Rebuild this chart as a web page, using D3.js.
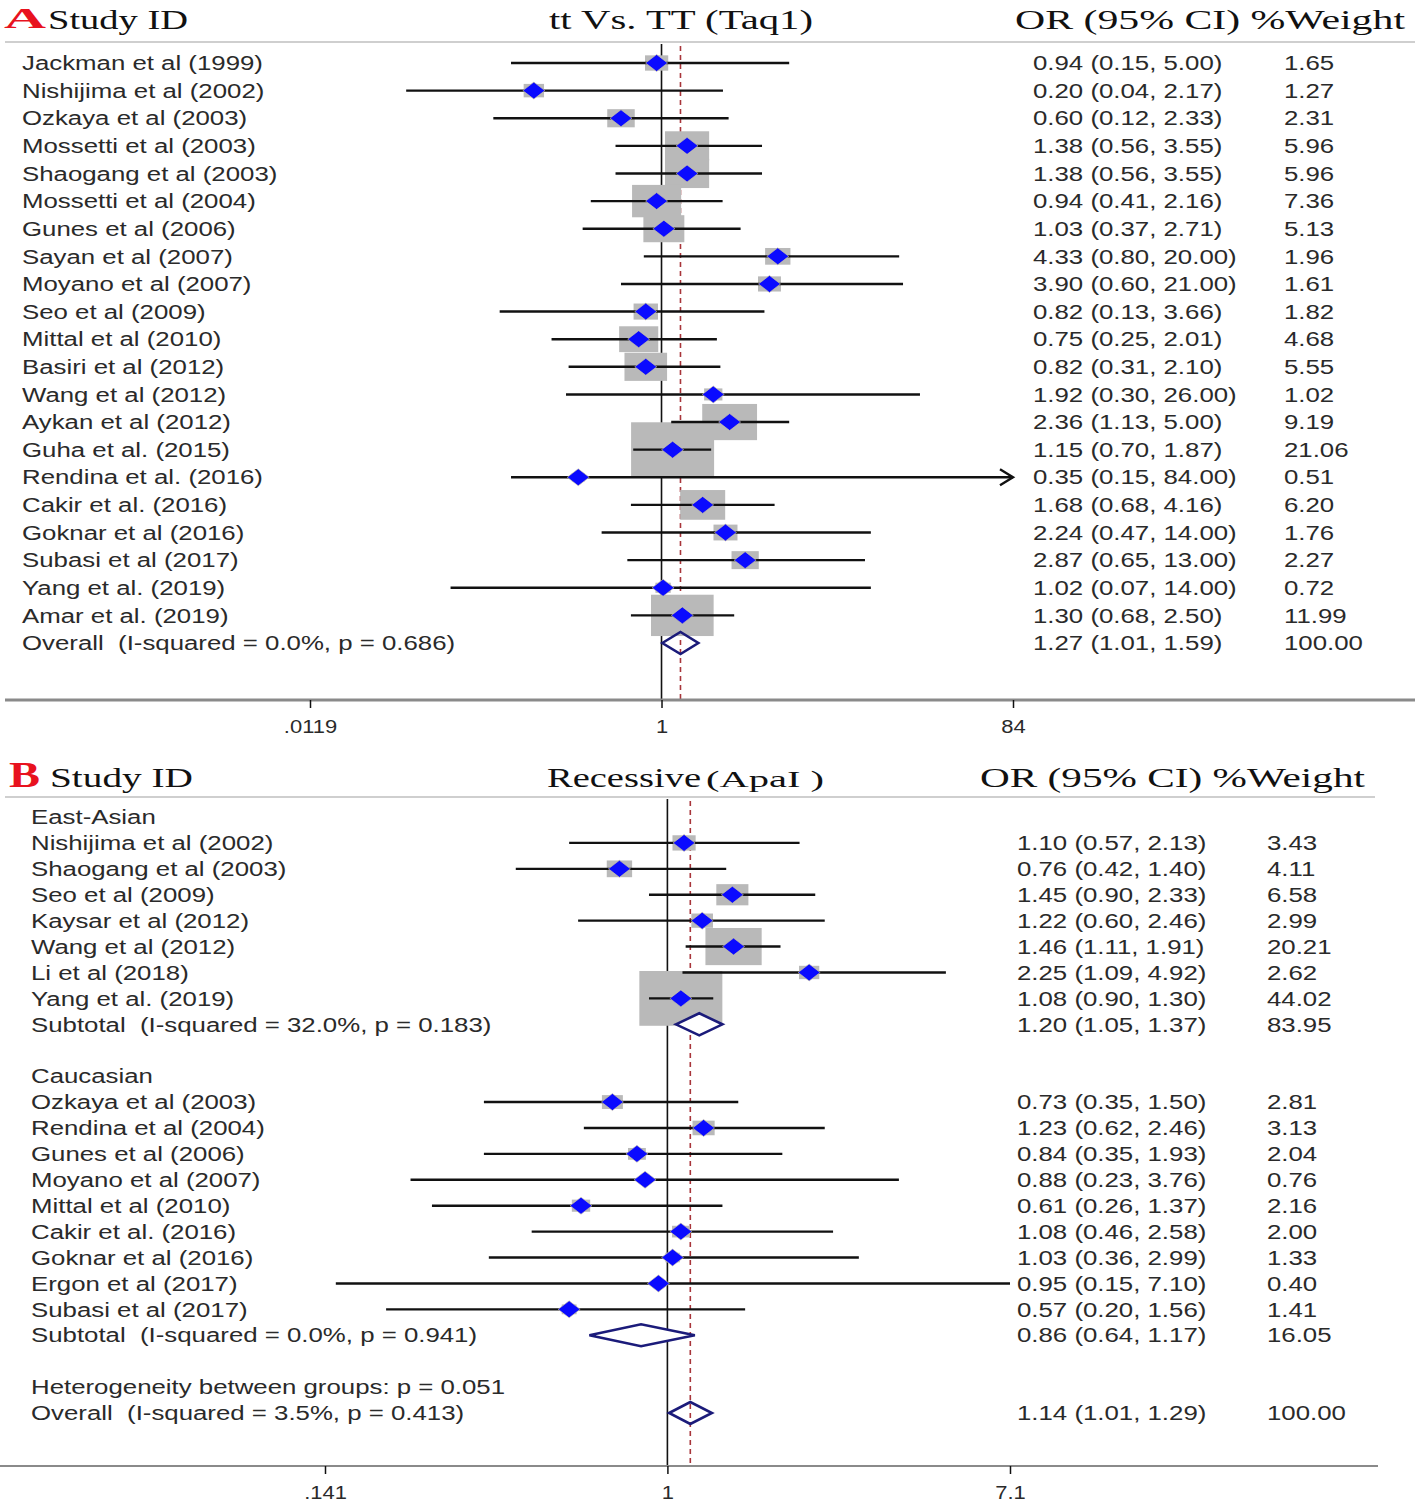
<!DOCTYPE html>
<html><head><meta charset="utf-8">
<script src="https://cdn.jsdelivr.net/npm/d3@7"></script>
<style>
body{margin:0;background:#fff;}
svg text{white-space:pre;}
</style>
</head><body>
<svg id="chart" width="1418" height="1503"></svg>
<script>
// ---------------- Panel A data ----------------
const labelsA = ["Jackman et al (1999)","Nishijima et al (2002)","Ozkaya et al (2003)","Mossetti et al (2003)","Shaogang et al (2003)","Mossetti et al (2004)","Gunes et al (2006)","Sayan et al (2007)","Moyano et al (2007)","Seo et al (2009)","Mittal et al (2010)","Basiri et al (2012)","Wang et al (2012)","Aykan et al (2012)","Guha et al. (2015)","Rendina et al. (2016)","Cakir et al. (2016)","Goknar et al (2016)","Subasi et al (2017)","Yang et al. (2019)","Amar et al. (2019)","Overall  (I-squared = 0.0%, p = 0.686)"];
const kindsA = ["study","study","study","study","study","study","study","study","study","study","study","study","study","study","study","study","study","study","study","study","study","overall"];
const orA   = [0.94,0.20,0.60,1.38,1.38,0.94,1.03,4.33,3.90,0.82,0.75,0.82,1.92,2.36,1.15,0.35,1.68,2.24,2.87,1.02,1.30,1.27];
const lowA  = [0.15,0.04,0.12,0.56,0.56,0.41,0.37,0.80,0.60,0.13,0.25,0.31,0.30,1.13,0.70,0.15,0.68,0.47,0.65,0.07,0.68,1.01];
const highA = [5.00,2.17,2.33,3.55,3.55,2.16,2.71,20.00,21.00,3.66,2.01,2.10,26.00,5.00,1.87,84.00,4.16,14.00,13.00,14.00,2.50,1.59];
const weightA = [1.65,1.27,2.31,5.96,5.96,7.36,5.13,1.96,1.61,1.82,4.68,5.55,1.02,9.19,21.06,0.51,6.20,1.76,2.27,0.72,11.99,100.00];
const arrowA = [false,false,false,false,false,false,false,false,false,false,false,false,false,false,false,true,false,false,false,false,false,false];
const tickValsA = [0.0119, 1, 84];
const tickLabelsA = [".0119", "1", "84"];

// ---------------- Panel B data ----------------
const labelsB = ["East-Asian","Nishijima et al (2002)","Shaogang et al (2003)","Seo et al (2009)","Kaysar et al (2012)","Wang et al (2012)","Li et al (2018)","Yang et al. (2019)","Subtotal  (I-squared = 32.0%, p = 0.183)","","Caucasian","Ozkaya et al (2003)","Rendina et al (2004)","Gunes et al (2006)","Moyano et al (2007)","Mittal et al (2010)","Cakir et al. (2016)","Goknar et al (2016)","Ergon et al (2017)","Subasi et al (2017)","Subtotal  (I-squared = 0.0%, p = 0.941)","","Heterogeneity between groups: p = 0.051","Overall  (I-squared = 3.5%, p = 0.413)"];
const kindsB = ["group","study","study","study","study","study","study","study","subtotal","blank","group","study","study","study","study","study","study","study","study","study","subtotal","blank","group","overall"];
const orB   = [null,1.10,0.76,1.45,1.22,1.46,2.25,1.08,1.20,null,null,0.73,1.23,0.84,0.88,0.61,1.08,1.03,0.95,0.57,0.86,null,null,1.14];
const lowB  = [null,0.57,0.42,0.90,0.60,1.11,1.09,0.90,1.05,null,null,0.35,0.62,0.35,0.23,0.26,0.46,0.36,0.15,0.20,0.64,null,null,1.01];
const highB = [null,2.13,1.40,2.33,2.46,1.91,4.92,1.30,1.37,null,null,1.50,2.46,1.93,3.76,1.37,2.58,2.99,7.10,1.56,1.17,null,null,1.29];
const weightB = [null,3.43,4.11,6.58,2.99,20.21,2.62,44.02,83.95,null,null,2.81,3.13,2.04,0.76,2.16,2.00,1.33,0.40,1.41,16.05,null,null,100.00];
const tickValsB = [0.141, 1, 7.1];
const tickLabelsB = [".141", "1", "7.1"];

// ---------------- drawing ----------------
const svg = d3.select("#chart");
const SANS = "'Liberation Sans', Arial, sans-serif";
const SERIF = "'Liberation Serif', 'Times New Roman', serif";
const TXT = "#2a2a2a";

function stretch(sel, f) {
  sel.each(function () {
    const w = this.getComputedTextLength();
    d3.select(this).attr("textLength", w * f).attr("lengthAdjust", "spacingAndGlyphs");
  });
}
function fitTo(sel, w) {
  sel.attr("textLength", w).attr("lengthAdjust", "spacingAndGlyphs");
}

function panel(cfg) {
  const g = svg.append("g");
  const n = cfg.labels.length;
  const x = d3.scaleLog().domain(cfg.domain).range(cfg.range);
  const y = d3.scalePoint().domain(d3.range(n)).range(cfg.yRange);
  const xMax = cfg.domain[1];

  // header
  const L = g.append("text").attr("x", cfg.letterX).attr("y", cfg.letterY).text(cfg.letter)
    .attr("font-family", SERIF).attr("font-weight", "bold").attr("font-size", cfg.letterSize).attr("fill", "#e8121e");
  fitTo(L, cfg.letterW);
  cfg.headers.forEach(h => {
    const t = g.append("text").attr("x", h.x).attr("y", cfg.headY).text(h.text)
      .attr("font-family", SERIF).attr("font-size", h.size || 27).attr("fill", "#111");
    fitTo(t, h.w);
  });
  g.append("line").attr("x1", 5).attr("x2", cfg.sepX2).attr("y1", cfg.sepY).attr("y2", cfg.sepY)
    .attr("stroke", "#cfcfcf").attr("stroke-width", 2);

  // reference line at 1
  g.append("line").attr("x1", x(1)).attr("x2", x(1)).attr("y1", cfg.sepY + 2).attr("y2", cfg.axisY)
    .attr("stroke", "#111").attr("stroke-width", 1.6);
  // overall dashed line
  const oi = cfg.kinds.indexOf("overall");
  g.append("line").attr("x1", x(cfg.or[oi])).attr("x2", x(cfg.or[oi]))
    .attr("y1", cfg.sepY + 4).attr("y2", cfg.axisY)
    .attr("stroke", "#a8353a").attr("stroke-width", 1.6).attr("stroke-dasharray", "5,4");

  const studies = d3.range(n).filter(i => cfg.kinds[i] === "study");
  const maxW = d3.max(studies, i => cfg.weight[i]);

  // weight boxes
  g.selectAll("rect.box").data(studies).join("rect").attr("class", "box")
    .each(function (i) {
      const w = 83 * Math.sqrt(cfg.weight[i] / maxW), h = w * 0.66;
      d3.select(this).attr("x", x(cfg.or[i]) - w / 2).attr("y", y(i) - h / 2)
        .attr("width", w).attr("height", h);
    })
    .attr("fill", "#b9b9b9");

  // CI lines
  g.selectAll("line.ci").data(studies).join("line").attr("class", "ci")
    .attr("x1", i => x(cfg.low[i])).attr("x2", i => x(Math.min(cfg.high[i], xMax)))
    .attr("y1", i => y(i)).attr("y2", i => y(i))
    .attr("stroke", "#111").attr("stroke-width", 2.4);

  // arrows
  const arr = studies.filter(i => cfg.arrow && cfg.arrow[i]);
  g.selectAll("path.arrow").data(arr).join("path").attr("class", "arrow")
    .attr("d", i => `M${x(xMax) - 13},${y(i) - 8} L${x(xMax)},${y(i)} L${x(xMax) - 13},${y(i) + 8}`)
    .attr("fill", "none").attr("stroke", "#111").attr("stroke-width", 2.4);

  // point markers
  g.selectAll("path.pt").data(studies).join("path").attr("class", "pt")
    .attr("d", i => { const cx = x(cfg.or[i]), cy = y(i);
      return `M${cx - 11},${cy} L${cx},${cy - 8.5} L${cx + 11},${cy} L${cx},${cy + 8.5} Z`; })
    .attr("fill", "#0a0aff").attr("stroke", "#d8d0a0").attr("stroke-width", 0.6);

  // pooled diamonds
  const pooled = d3.range(n).filter(i => cfg.kinds[i] === "subtotal" || cfg.kinds[i] === "overall");
  g.selectAll("path.dia").data(pooled).join("path").attr("class", "dia")
    .attr("d", i => { const cy = y(i), l = x(cfg.low[i]), c = x(cfg.or[i]), r = x(cfg.high[i]);
      return `M${l},${cy} L${c},${cy - 11} L${r},${cy} L${c},${cy + 11} Z`; })
    .attr("fill", i => cfg.kinds[i] === "overall" ? "none" : "#fff")
    .attr("stroke", "#1b1b7a").attr("stroke-width", 2.6);

  // labels
  const lab = g.selectAll("text.lab").data(d3.range(n).filter(i => cfg.labels[i] !== "")).join("text")
    .attr("class", "lab").attr("x", cfg.labX).attr("y", i => y(i)).attr("dy", "0.36em")
    .text(i => cfg.labels[i]).attr("font-family", SANS).attr("font-size", 20).attr("fill", TXT);
  stretch(lab, 1.29);

  const withVal = d3.range(n).filter(i => cfg.or[i] != null);
  const est = g.selectAll("text.est").data(withVal).join("text").attr("class", "est")
    .attr("x", cfg.estX).attr("y", i => y(i)).attr("dy", "0.36em")
    .text(i => `${cfg.or[i].toFixed(2)} (${cfg.low[i].toFixed(2)}, ${cfg.high[i].toFixed(2)})`)
    .attr("font-family", SANS).attr("font-size", 20).attr("fill", TXT);
  stretch(est, 1.29);
  const wt = g.selectAll("text.wt").data(withVal).join("text").attr("class", "wt")
    .attr("x", cfg.wtX).attr("y", i => y(i)).attr("dy", "0.36em")
    .text(i => cfg.weight[i].toFixed(2))
    .attr("font-family", SANS).attr("font-size", 20).attr("fill", TXT);
  stretch(wt, 1.29);

  // axis
  g.append("line").attr("x1", cfg.axisX[0]).attr("x2", cfg.axisX[1]).attr("y1", cfg.axisY).attr("y2", cfg.axisY)
    .attr("stroke", "#8a8a8a").attr("stroke-width", cfg.axisW);
  const ax = g.append("g").attr("transform", `translate(0,${cfg.axisY})`)
    .call(d3.axisBottom(x).tickValues(cfg.tickVals)
      .tickFormat((d, i) => cfg.tickLabels[i]).tickSize(8).tickPadding(12));
  ax.select(".domain").remove();
  ax.selectAll(".tick line").attr("stroke", "#111").attr("stroke-width", 1.5);
  const tt = ax.selectAll(".tick text").attr("font-family", SANS).attr("font-size", 18).attr("fill", TXT);
  stretch(tt, 1.22);
}

panel({
  labels: labelsA, kinds: kindsA, or: orA, low: lowA, high: highA, weight: weightA, arrow: arrowA,
  domain: [0.0119, 84], range: [310, 1013], yRange: [63, 643],
  tickVals: tickValsA, tickLabels: tickLabelsA,
  letter: "A", letterX: 4, letterY: 28, letterSize: 30, letterW: 42, headY: 29,
  headers: [
    { text: "Study ID", x: 48, w: 140 },
    { text: "tt Vs. TT (Taq1)", x: 549, w: 264 },
    { text: "OR (95% CI) %Weight", x: 1015, w: 390 }
  ],
  sepY: 42, sepX2: 1415, labX: 22, estX: 1033, wtX: 1284,
  axisY: 700, axisX: [5, 1415], axisW: 3
});

panel({
  labels: labelsB, kinds: kindsB, or: orB, low: lowB, high: highB, weight: weightB, arrow: null,
  domain: [0.141, 7.1], range: [325, 1010], yRange: [817, 1413],
  tickVals: tickValsB, tickLabels: tickLabelsB,
  letter: "B", letterX: 9, letterY: 787, letterSize: 35, letterW: 31, headY: 787,
  headers: [
    { text: "Study ID", x: 50, w: 143 },
    { text: "Recessive", x: 547, w: 154, size: 28 },
    { text: "(ApaI )", x: 706, w: 118, size: 24 },
    { text: "OR (95% CI) %Weight", x: 980, w: 385 }
  ],
  sepY: 797, sepX2: 1375, labX: 31, estX: 1017, wtX: 1267,
  axisY: 1466, axisX: [0, 1378], axisW: 2
});
</script>
</body></html>
